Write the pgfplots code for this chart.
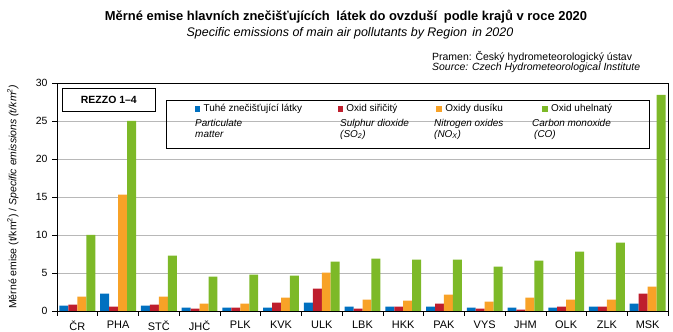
\documentclass[border=0pt]{standalone}
\usepackage{fontspec}
\setmainfont{Liberation Sans}
\usepackage{pgfplots}
\pgfplotsset{compat=1.18}
\definecolor{cblue}{HTML}{0070C0}
\definecolor{cred}{HTML}{BE1E2D}
\definecolor{corange}{HTML}{F8A227}
\definecolor{cgreen}{HTML}{7DB928}
\newcommand{\fs}[1]{\fontsize{#1}{#1}\selectfont}
\begin{document}
\begin{tikzpicture}
\useasboundingbox (0,0) rectangle (673bp,332bp);
\begin{axis}[
  at={(57bp,21bp)}, anchor=south west,
  scale only axis, width=611bp, height=228bp,
  xmin=-0.5, xmax=14.5, ymin=0, ymax=30,
  ytick={0,5,...,30},
  xtick={0,...,14},
  xticklabels={ČR,PHA,STČ,JHČ,PLK,KVK,ULK,LBK,HKK,PAK,VYS,JHM,OLK,ZLK,MSK},
  minor xtick={-0.5,0.5,...,14.5},
  major x tick style={draw=none},
  minor tick length=5bp, major tick length=5bp,
  tick align=outside, xtick pos=bottom, ytick pos=left,
  tick style={black, line width=0.6pt},
  ymajorgrids, grid style={black!28, line width=0.7pt},
  axis line style={black, line width=0.7pt},
  yticklabel style={font=\fs{10.5}, xshift=-1bp},
  xticklabel style={font=\fs{11}, yshift=-1.5bp},
  /pgf/number format/assume math mode=true,
  every axis y label/.style={at={(axis description cs:-0.072,0.5)}, rotate=90, anchor=center, font=\fs{10.5}},
  ylabel={Měrné emise (t/km\textsuperscript{2}) / \textit{Specific emissions (t/km\textsuperscript{2})}},
  legend columns=4,
  legend style={at={(axis description cs:0.225,0.886)}, anchor=west, draw=none, fill=none,
    inner sep=0pt, font=\fs{10},
    /tikz/every odd column/.append style={column sep=2bp}},
  legend cell align=left,
]
\addplot[ybar, bar width=0.22, bar shift=-0.33, fill=cblue, draw=none, forget plot] coordinates {
(0,0.70) (1,2.28) (2,0.70) (3,0.43) (4,0.43) (5,0.43) (6,1.09) (7,0.57) (8,0.57) (9,0.57) (10,0.43) (11,0.43) (12,0.43) (13,0.57) (14,0.96)};
\addplot[ybar, bar width=0.22, bar shift=-0.11, fill=cred, draw=none, forget plot] coordinates {
(0,0.83) (1,0.57) (2,0.83) (3,0.30) (4,0.43) (5,1.09) (6,2.93) (7,0.30) (8,0.57) (9,0.96) (10,0.30) (11,0.17) (12,0.57) (13,0.57) (14,2.28)};
\addplot[ybar, bar width=0.22, bar shift=0.11, fill=corange, draw=none, forget plot] coordinates {
(0,1.88) (1,15.3) (2,1.88) (3,0.96) (4,0.96) (5,1.75) (6,5.04) (7,1.49) (8,1.35) (9,2.15) (10,1.22) (11,1.75) (12,1.49) (13,1.49) (14,3.20)};
\addplot[ybar, bar width=0.22, bar shift=0.33, fill=cgreen, draw=none, forget plot] coordinates {
(0,10.0) (1,25.0) (2,7.28) (3,4.51) (4,4.78) (5,4.65) (6,6.50) (7,6.90) (8,6.75) (9,6.75) (10,5.83) (11,6.62) (12,7.80) (13,8.99) (14,28.45)};
\addlegendimage{legend image code/.code={\fill[cblue] (0bp,-2bp) rectangle (4.5bp,2.5bp);}}
\addlegendentry{\makebox[132bp][l]{Tuhé znečišťující látky}}
\addlegendimage{legend image code/.code={\fill[cred] (0bp,-2bp) rectangle (4.5bp,2.5bp);}}
\addlegendentry{\makebox[88bp][l]{Oxid siřičitý}}
\addlegendimage{legend image code/.code={\fill[corange] (0bp,-2bp) rectangle (4.5bp,2.5bp);}}
\addlegendentry{\makebox[95bp][l]{Oxidy dusíku}}
\addlegendimage{legend image code/.code={\fill[cgreen] (0bp,-2bp) rectangle (4.5bp,2.5bp);}}
\addlegendentry{Oxid uhelnatý}
\end{axis}
% title
\node[font=\fs{13}\bfseries] at (346bp,315bp) {Měrné emise hlavních znečišťujících\hspace{3bp} látek do ovzduší\hspace{3bp} podle krajů v roce 2020};
\node[font=\fs{12.5}\itshape] at (350bp,299bp) {Specific emissions of main air pollutants by Region\hspace{2bp} in 2020};
\node[font=\fs{10.5}, anchor=west, inner sep=0pt] at (432bp,275bp) {Pramen: Český hydrometeorologický ústav};
\node[font=\fs{10.5}\itshape, anchor=west, inner sep=0pt] at (432bp,264bp) {Source: Czech Hydrometeorological Institute};
% REZZO box
\node[draw, line width=0.7pt, fill=white, font=\fs{10.5}\bfseries, minimum width=93bp, minimum height=23bp, anchor=north west] at (62bp,244bp) {REZZO 1–4};
% legend box
\draw[line width=0.7pt] (166bp,231.3bp) rectangle (649bp,183.7bp);
\node[font=\fs{10}\itshape, anchor=north west, align=left, inner sep=0pt] at (195bp,213bp) {Particulate\\[1bp]matter};
\node[font=\fs{10}\itshape, anchor=north west, align=left, inner sep=0pt] at (340bp,213bp) {Sulphur dioxide\\[1bp](SO\textsubscript{2})};
\node[font=\fs{10}\itshape, anchor=north west, align=left, inner sep=0pt] at (434bp,213bp) {Nitrogen oxides\\[1bp](NO\textsubscript{X})};
\node[font=\fs{10}\itshape, anchor=north west, align=left, inner sep=0pt] at (532bp,213bp) {Carbon monoxide\\[1bp]\hspace*{2bp}(CO)};
\end{tikzpicture}
\end{document}
